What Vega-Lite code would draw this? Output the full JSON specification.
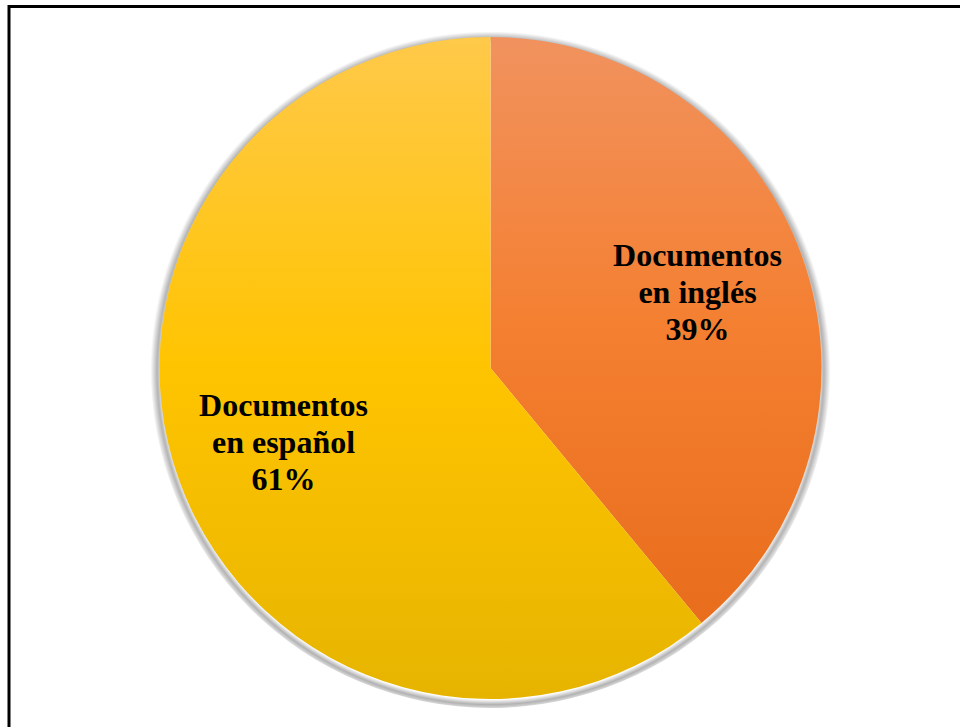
{
  "$schema": "https://vega.github.io/schema/vega-lite/v6.json",
  "width": 963,
  "height": 723,
  "padding": {"left": 9, "top": 6.5, "right": -12, "bottom": -2.5},
  "background": "white",
  "view": {"stroke": "black", "strokeWidth": 3, "fill": "white"},
  "config": {
    "text": {"lineBreak": "\n"}
  },
  "data": {
    "values": [
      {"categoria": "Documentos en inglés", "valor": 39, "etiqueta": "Documentos\nen inglés\n39%"},
      {"categoria": "Documentos en español", "valor": 61, "etiqueta": "Documentos\nen español\n61%"}
    ]
  },
  "layer": [
    {
      "data": {"values": [{"sombra": 1}]},
      "mark": {
        "type": "arc",
        "theta": 0,
        "theta2": 6.2832,
        "outerRadius": 340,
        "fill": {
          "gradient": "radial",
          "x1": 0.5, "y1": 0.505, "r1": 0,
          "x2": 0.5, "y2": 0.505, "r2": 0.5,
          "stops": [
            {"offset": 0, "color": "rgba(0,0,0,0)"},
            {"offset": 0.965, "color": "rgba(0,0,0,0)"},
            {"offset": 0.98, "color": "rgba(0,0,0,0.3)"},
            {"offset": 1, "color": "rgba(0,0,0,0)"}
          ]
        }
      },
      "encoding": {}
    },
    {
      "mark": {"type": "arc", "outerRadius": 331, "stroke": null},
      "encoding": {
        "theta": {"field": "valor", "type": "quantitative", "stack": true},
        "order": {"field": "valor", "type": "quantitative", "sort": "ascending"},
        "color": {
          "condition": {
            "test": "datum.categoria === 'Documentos en inglés'",
            "value": {
              "gradient": "linear", "x1": 0, "y1": 0, "x2": 0, "y2": 1,
              "stops": [
                {"offset": 0, "color": "#F1925E"},
                {"offset": 0.5, "color": "#F47F30"},
                {"offset": 1, "color": "#E86D1C"}
              ]
            }
          },
          "value": {
            "gradient": "linear", "x1": 0, "y1": 0, "x2": 0, "y2": 1,
            "stops": [
              {"offset": 0, "color": "#FFC94A"},
              {"offset": 0.5, "color": "#FFC400"},
              {"offset": 1, "color": "#E6B400"}
            ]
          }
        }
      }
    },
    {
      "mark": {
        "type": "text",
        "radius": 220,
        "dy": -37,
        "font": "Liberation Serif",
        "fontWeight": "bold",
        "fontSize": 32,
        "lineHeight": 37,
        "align": "center",
        "baseline": "middle",
        "color": "black"
      },
      "encoding": {
        "theta": {"field": "valor", "type": "quantitative", "stack": true},
        "order": {"field": "valor", "type": "quantitative", "sort": "ascending"},
        "text": {"field": "etiqueta", "type": "nominal"}
      }
    }
  ]
}
